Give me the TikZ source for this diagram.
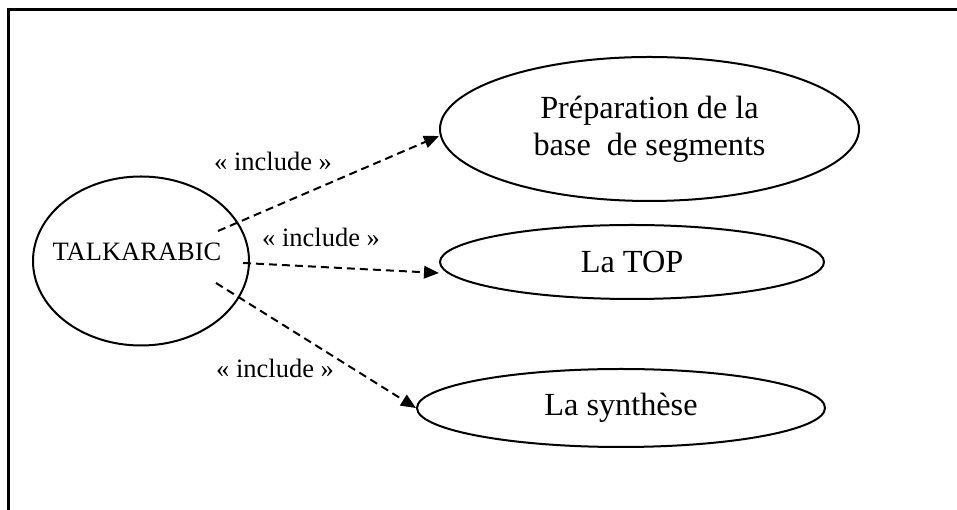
\documentclass[tikz,border=0pt]{standalone}
\usepackage{fontspec}
\setmainfont{Liberation Serif}
\usepackage{tikz}
\usetikzlibrary{arrows.meta, positioning, shapes.geometric, calc}

\begin{document}
\begin{tikzpicture}[x=0.4pt, y=-0.4pt, >={Triangle[length=6pt, width=5pt]}]
  \tikzset{
    usecase/.style={draw, ellipse, line width=0.8pt, inner sep=0pt, align=center, font=\fontsize{12.9}{14.7}\selectfont},
    inclabel/.style={inner sep=0pt, font=\fontsize{10.6}{12.7}\selectfont},
    incl/.style={->, dash pattern=on 3.2pt off 2pt, line width=0.8pt}
  }
  \useasboundingbox (0,0) rectangle (957,510);

  % cadre
  \draw[line width=1pt] (8.3,520) -- (8.3,9.7) -- (970,9.7);

  % acteur / cas principal
  \node[usecase, minimum width=86.4pt, minimum height=67.6pt] (talk) at (141,261) {};
  \node[inclabel] (talktext) at (137,252) {TALKARABIC};

  % cas inclus
  \node[usecase, minimum width=167.6pt, minimum height=57.6pt] (prep) at (649.5,129) {Préparation de la\\base\ \ de segments};
  \node[usecase, minimum width=153.6pt, minimum height=29.6pt] (top) at (632,262) {La TOP};
  \node[usecase, minimum width=163.2pt, minimum height=31.2pt] (synth) at (621,408) {La synthèse};

  % relations << include >>
  \coordinate (s1) at ([shift={(77,-30)}]talk.center);
  \coordinate (s2) at ([shift={(102,2)}]talk.center);
  \coordinate (s3) at ([shift={(75,22)}]talk.center);
  \draw[incl] (s1) -- ([yshift=-2.8pt]prep.west);
  \draw[incl] (s2) -- ([yshift=-4.4pt]top.west);
  \draw[incl] (s3) -- (synth.west);

  \node[inclabel] (lab1) at (273,161) {« include »};
  \node[inclabel] (lab2) at (321,237) {« include »};
  \node[inclabel] (lab3) at (275,368) {« include »};

\end{tikzpicture}
\end{document}
